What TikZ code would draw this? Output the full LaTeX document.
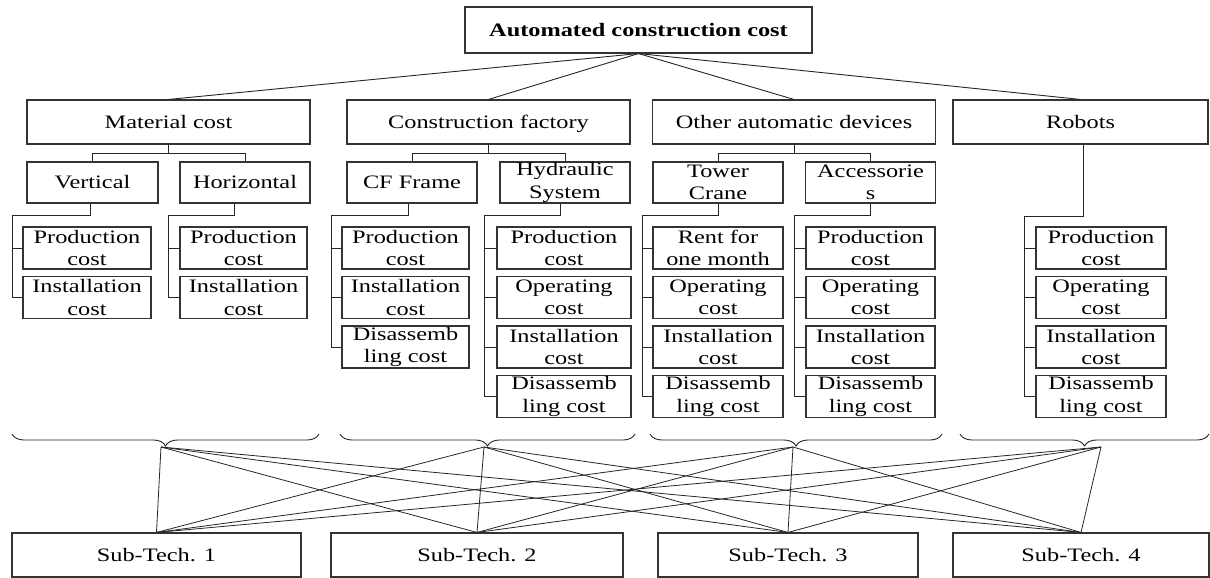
\documentclass[tikz,border=0pt]{standalone}
\usepackage{fontspec}
\setmainfont{Liberation Serif}[FakeStretch=1.28]
\usetikzlibrary{decorations.pathreplacing}
\begin{document}
\begin{tikzpicture}[x=1pt,y=-1pt,
  box/.style={draw=black!80,line width=1.1pt,inner sep=0pt,align=center,fill=white,
              font=\fontsize{19}{22.5}\selectfont},
  oneline/.style={text height=15pt,text depth=2.5pt},
  head/.style={box,oneline,minimum height=44pt},
  mid/.style={box,minimum height=41pt,minimum width=130pt},
  leaf/.style={box,minimum height=42pt,minimum width=129pt},
  link/.style={draw=black!85,line width=0.9pt},
  curly/.style={draw=black!85,line width=0.9pt,decorate,
                decoration={brace,mirror,amplitude=12pt}}]
\useasboundingbox (0,0) rectangle (1210,578);

% root
\node[box,oneline,minimum width=347pt,minimum height=46pt,font=\fontsize{19}{22.5}\selectfont\bfseries]
  (root) at (638.5,30) {Automated construction cost};

% cost groups
\node[head,minimum width=283pt] (mat) at (168.5,122) {Material cost};
\node[head,minimum width=283pt] (cf)  at (488.5,122) {Construction factory};
\node[head,minimum width=283pt] (oad) at (794,122)   {Other automatic devices};
\node[head,minimum width=255pt] (rob) at (1080.5,122) {Robots};

% sub-groups
\node[mid,oneline,minimum width=131pt] (vert) at (92.5,182.5) {Vertical};
\node[mid,oneline] (hor)  at (245,182.5)   {Horizontal};
\node[mid,oneline] (cff)  at (412,182.5)   {CF Frame};
\node[mid] (hyd)  at (565,182.5)   {Hydraulic\\System};
\node[mid] (tow)  at (718,182.5)   {Tower\\Crane};
\node[mid] (acc)  at (870.5,182.5) {Accessorie\\s};

% leaves: Vertical
\node[leaf,minimum width=128pt] (a1) at (87,248)   {Production\\cost};
\node[leaf,minimum width=128pt] (a2) at (87,297.5) {Installation\\cost};
% leaves: Horizontal
\node[leaf,minimum width=127pt] (b1) at (243.5,248)   {Production\\cost};
\node[leaf,minimum width=127pt] (b2) at (243.5,297.5) {Installation\\cost};
% leaves: CF Frame
\node[leaf,minimum width=127pt] (c1) at (405.5,248)   {Production\\cost};
\node[leaf,minimum width=127pt] (c2) at (405.5,297.5) {Installation\\cost};
\node[leaf,minimum width=127pt] (c3) at (405.5,347)   {Disassemb\\ling cost};
% leaves: Hydraulic System
\node[leaf,minimum width=134pt] (d1) at (564,248)   {Production\\cost};
\node[leaf,minimum width=134pt] (d2) at (564,297.5) {Operating\\cost};
\node[leaf,minimum width=134pt] (d3) at (564,347)   {Installation\\cost};
\node[leaf,minimum width=134pt] (d4) at (564,396.5) {Disassemb\\ling cost};
% leaves: Tower Crane
\node[leaf,minimum width=130pt] (e1) at (718,248)   {Rent for\\one month};
\node[leaf,minimum width=130pt] (e2) at (718,297.5) {Operating\\cost};
\node[leaf,minimum width=130pt] (e3) at (718,347)   {Installation\\cost};
\node[leaf,minimum width=130pt] (e4) at (718,396.5) {Disassemb\\ling cost};
% leaves: Accessories
\node[leaf] (f1) at (870.5,248)   {Production\\cost};
\node[leaf] (f2) at (870.5,297.5) {Operating\\cost};
\node[leaf] (f3) at (870.5,347)   {Installation\\cost};
\node[leaf] (f4) at (870.5,396.5) {Disassemb\\ling cost};
% leaves: Robots
\node[leaf,minimum width=130pt] (g1) at (1101,248)   {Production\\cost};
\node[leaf,minimum width=130pt] (g2) at (1101,297.5) {Operating\\cost};
\node[leaf,minimum width=130pt] (g3) at (1101,347)   {Installation\\cost};
\node[leaf,minimum width=130pt] (g4) at (1101,396.5) {Disassemb\\ling cost};

% sub-technologies
\node[head,minimum width=289pt] (s1) at (156.5,555) {Sub-Tech. 1};
\node[head,minimum width=292pt] (s2) at (477,555)   {Sub-Tech. 2};
\node[head,minimum width=260pt] (s3) at (788,555)   {Sub-Tech. 3};
\node[head,minimum width=256pt] (s4) at (1081,555)  {Sub-Tech. 4};

% root to cost groups
\foreach \n in {mat,cf,oad,rob} \draw[link] (root.south) -- (\n.north);

% cost groups to sub-groups
\draw[link] (mat.south) -- ++(0,9) -| (vert.north);
\draw[link] (mat.south) -- ++(0,9) -| (hor.north);
\draw[link] (cf.south)  -- ++(0,9) -| (cff.north);
\draw[link] (cf.south)  -- ++(0,9) -| (hyd.north);
\draw[link] (oad.south) -- ++(0,9) -| (tow.north);
\draw[link] (oad.south) -- ++(0,9) -| (acc.north);

% spines of the leaf columns
\coordinate (sa) at (12,215);
\coordinate (sb) at (168,215);
\coordinate (sc) at (331,215);
\coordinate (sd) at (484,215);
\coordinate (se) at (642,215);
\coordinate (sf) at (794.5,215);
\coordinate (sg) at (1024,216);
\coordinate (hb) at (234,203);

\draw[link] ([xshift=-2pt]vert.south) |- (sa) |- (a2.west);
\draw[link] (sa |- a1.west) -- (a1.west);
\draw[link] (hb) |- (sb) |- (b2.west);
\draw[link] (sb |- b1.west) -- (b1.west);
\draw[link] ([xshift=-4pt]cff.south) |- (sc) |- (c3.west);
\foreach \n in {c1,c2} \draw[link] (sc |- \n.west) -- (\n.west);
\draw[link] ([xshift=-5pt]hyd.south) |- (sd) |- (d4.west);
\foreach \n in {d1,d2,d3} \draw[link] (sd |- \n.west) -- (\n.west);
\draw[link] (tow.south) |- (se) |- (e4.west);
\foreach \n in {e1,e2,e3} \draw[link] (se |- \n.west) -- (\n.west);
\draw[link] (acc.south) |- (sf) |- (f4.west);
\foreach \n in {f1,f2,f3} \draw[link] (sf |- \n.west) -- (\n.west);
\draw[link] ([xshift=3pt]rob.south) |- (sg) |- (g4.west);
\foreach \n in {g1,g2,g3} \draw[link] (sg |- \n.west) -- (\n.west);

% braces under each cost group
\draw[curly] (12,434) -- (319,434);
\draw[curly] (340,434) -- (635,434);
\draw[curly] (650,434) -- (942,434);
\draw[curly] (960,434) -- (1209,434);

% every group feeds every sub-technology
\coordinate (t1) at (161,447);
\coordinate (t2) at (484,447);
\coordinate (t3) at (793,447);
\coordinate (t4) at (1101,447);
\foreach \t in {t1,t2,t3,t4}
  \foreach \s in {s1,s2,s3,s4}
    \draw[link,line width=0.8pt] (\t) -- (\s.north);
\end{tikzpicture}
\end{document}
